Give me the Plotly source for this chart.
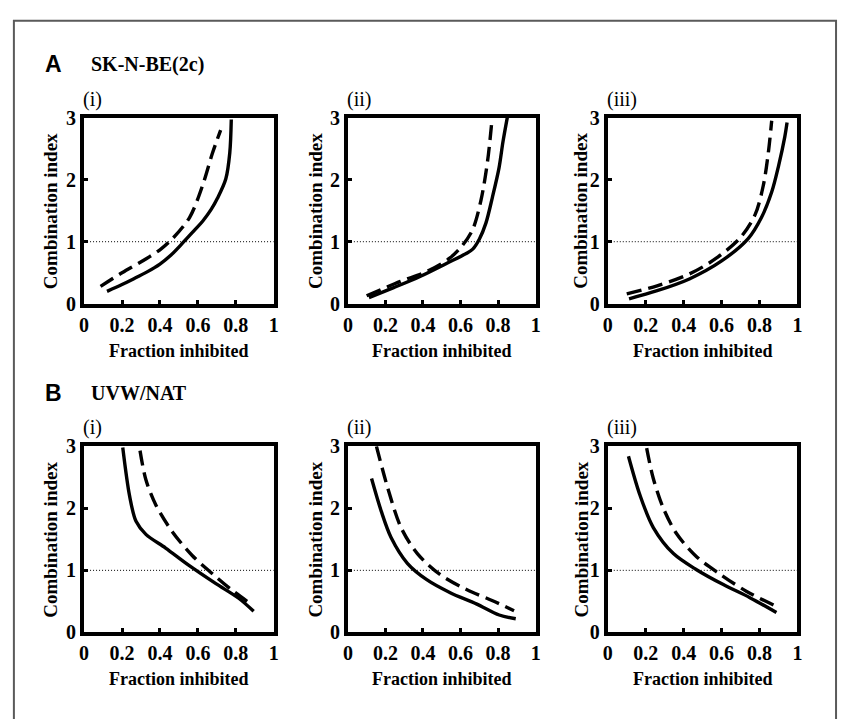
import plotly.graph_objects as go

W, H = 844, 719

# ---------------- data ----------------
# Row A: SK-N-BE(2c)
A1_solid_x = [0.121, 0.20, 0.26, 0.33, 0.40, 0.46, 0.52, 0.58, 0.625, 0.67, 0.703, 0.747, 0.768, 0.776]
A1_solid_y = [0.20, 0.31, 0.40, 0.51, 0.64, 0.79, 0.98, 1.18, 1.33, 1.52, 1.70, 2.01, 2.43, 2.97]
A1_dash_x = [0.087, 0.20, 0.33, 0.40, 0.46, 0.556, 0.625, 0.677, 0.72]
A1_dash_y = [0.28, 0.50, 0.73, 0.87, 1.03, 1.39, 1.91, 2.43, 2.80]

A2_solid_x = [0.112, 0.244, 0.384, 0.525, 0.63, 0.665, 0.70, 0.735, 0.77, 0.805, 0.826, 0.849]
A2_solid_y = [0.10, 0.26, 0.44, 0.65, 0.81, 0.88, 1.04, 1.30, 1.72, 2.19, 2.61, 3.0]
A2_dash_x = [0.10, 0.28, 0.42, 0.54, 0.61, 0.665, 0.709, 0.744, 0.767]
A2_dash_y = [0.13, 0.36, 0.52, 0.73, 0.94, 1.20, 1.67, 2.30, 2.95]

A3_solid_x = [0.112, 0.26, 0.43, 0.60, 0.74, 0.81, 0.864, 0.90, 0.933, 0.945]
A3_solid_y = [0.08, 0.21, 0.40, 0.69, 1.05, 1.39, 1.80, 2.22, 2.69, 2.92]
A3_dash_x = [0.10, 0.26, 0.43, 0.57, 0.70, 0.777, 0.82, 0.846, 0.864]
A3_dash_y = [0.16, 0.29, 0.48, 0.73, 1.07, 1.44, 1.91, 2.43, 2.95]

# Row B: UVW/NAT
B1_solid_x = [0.204, 0.24, 0.274, 0.326, 0.43, 0.553, 0.693, 0.815, 0.894]
B1_solid_y = [2.98, 2.20, 1.79, 1.58, 1.36, 1.08, 0.79, 0.55, 0.34]
B1_dash_x = [0.295, 0.326, 0.379, 0.466, 0.57, 0.675, 0.78, 0.888]
B1_dash_y = [2.93, 2.46, 2.05, 1.62, 1.24, 0.95, 0.68, 0.44]

B2_solid_x = [0.126, 0.178, 0.23, 0.318, 0.42, 0.545, 0.684, 0.806, 0.894]
B2_solid_y = [2.48, 1.95, 1.53, 1.11, 0.85, 0.64, 0.46, 0.28, 0.22]
B2_dash_x = [0.152, 0.213, 0.283, 0.37, 0.492, 0.632, 0.771, 0.885]
B2_dash_y = [3.0, 2.32, 1.69, 1.27, 0.93, 0.69, 0.51, 0.35]

B3_solid_x = [0.109, 0.17, 0.24, 0.346, 0.468, 0.609, 0.749, 0.889]
B3_solid_y = [2.84, 2.21, 1.69, 1.27, 1.01, 0.77, 0.56, 0.32]
B3_dash_x = [0.205, 0.24, 0.293, 0.363, 0.468, 0.591, 0.732, 0.889]
B3_dash_y = [2.97, 2.48, 2.00, 1.59, 1.22, 0.94, 0.66, 0.42]

x_ticks = [0, 0.2, 0.4, 0.6, 0.8, 1]
x_tick_labels = ["0", "0.2", "0.4", "0.6", "0.8", "1"]
y_ticks = [0, 1, 2, 3]
y_tick_labels = ["0", "1", "2", "3"]

panel_labels = ["(i)", "(ii)", "(iii)"]
row_letters = ["A", "B"]
row_titles = ["SK-N-BE(2c)", "UVW/NAT"]
x_title = "Fraction inhibited"
y_title = "Combination index"

panels = [
    (A1_solid_x, A1_solid_y, A1_dash_x, A1_dash_y),
    (A2_solid_x, A2_solid_y, A2_dash_x, A2_dash_y),
    (A3_solid_x, A3_solid_y, A3_dash_x, A3_dash_y),
    (B1_solid_x, B1_solid_y, B1_dash_x, B1_dash_y),
    (B2_solid_x, B2_solid_y, B2_dash_x, B2_dash_y),
    (B3_solid_x, B3_solid_y, B3_dash_x, B3_dash_y),
]

# ---------------- layout geometry (pixels) ----------------
col_x = [(80, 272), (347, 537), (610, 802)]
row_y = [(110, 302), (449, 641)]
ytitle_x = [46, 314, 583]
xtitle_y = [351, 689]
header_y = [55, 394]


def px(X):
    return X / W


def py(Y):
    return 1 - Y / H


SERIF = "Liberation Serif"
SANS = "Liberation Sans"

fig = go.Figure()
layout = dict(
    width=W, height=H, margin=dict(l=0, r=0, t=0, b=0),
    paper_bgcolor="white", plot_bgcolor="white", showlegend=False,
)
annotations = []

for i, (sx, sy, dx, dy) in enumerate(panels):
    r, c = divmod(i, 3)
    n = "" if i == 0 else str(i + 1)
    xa, ya = "x" + n, "y" + n
    # reference line at CI = 1
    fig.add_trace(go.Scatter(x=[0, 1], y=[1, 1], mode="lines", xaxis=xa, yaxis=ya,
                             line=dict(color="black", width=1, dash="1px,2px"),
                             hoverinfo="skip"))
    fig.add_trace(go.Scatter(x=dx, y=dy, mode="lines", xaxis=xa, yaxis=ya,
                             line=dict(color="black", width=3.4, dash="15px,7px",
                                       shape="spline", smoothing=0.9)))
    fig.add_trace(go.Scatter(x=sx, y=sy, mode="lines", xaxis=xa, yaxis=ya,
                             line=dict(color="black", width=3.4,
                                       shape="spline", smoothing=0.9)))
    X0, X1 = col_x[c]
    Y0, Y1 = row_y[r]
    common = dict(showline=True, linewidth=4, linecolor="black", mirror=True,
                  showgrid=False, zeroline=False, ticks="inside", ticklen=4,
                  tickwidth=3, tickcolor="black",
                  tickfont=dict(family=SERIF, size=20, color="black", weight="bold"))
    layout["xaxis" + n] = dict(domain=[px(X0), px(X1)], range=[0, 1], anchor=ya,
                               tickvals=x_ticks, ticktext=x_tick_labels, **common)
    layout["yaxis" + n] = dict(domain=[py(Y1), py(Y0)], range=[0, 3], anchor=xa,
                               tickvals=y_ticks, ticktext=y_tick_labels, **common)
    # panel label
    annotations.append(dict(x=px(X0 - 3), y=py(Y0 - 19), xref="paper", yref="paper",
                            text=panel_labels[c], showarrow=False, xanchor="left",
                            yanchor="middle",
                            font=dict(family=SERIF, size=20, color="black")))
    # axis titles
    annotations.append(dict(x=px((X0 + X1) / 2), y=py(xtitle_y[r]), xref="paper",
                            yref="paper", text="<b>" + x_title + "</b>", showarrow=False,
                            xanchor="center", yanchor="middle",
                            font=dict(family=SERIF, size=18, color="black")))
    annotations.append(dict(x=px(ytitle_x[c]), y=py((Y0 + Y1) / 2), xref="paper",
                            yref="paper", text="<b>" + y_title + "</b>", showarrow=False,
                            textangle=-90, xanchor="center", yanchor="middle",
                            font=dict(family=SERIF, size=19, color="black")))

for r in range(2):
    annotations.append(dict(x=px(38), y=py(header_y[r]), xref="paper", yref="paper",
                            text="<b>" + row_letters[r] + "</b>", showarrow=False,
                            xanchor="left", yanchor="middle",
                            font=dict(family=SANS, size=23, color="black")))
    annotations.append(dict(x=px(85), y=py(header_y[r]), xref="paper", yref="paper",
                            text="<b>" + row_titles[r] + "</b>", showarrow=False,
                            xanchor="left", yanchor="middle",
                            font=dict(family=SERIF, size=20, color="black")))

layout["annotations"] = annotations
layout["shapes"] = [dict(type="rect", xref="paper", yref="paper",
                         x0=px(9), x1=px(841), y0=py(740), y1=py(10),
                         line=dict(color="#5a5a5a", width=2), fillcolor="rgba(0,0,0,0)")]
fig.update_layout(**layout)
fig.write_html("out.html")
